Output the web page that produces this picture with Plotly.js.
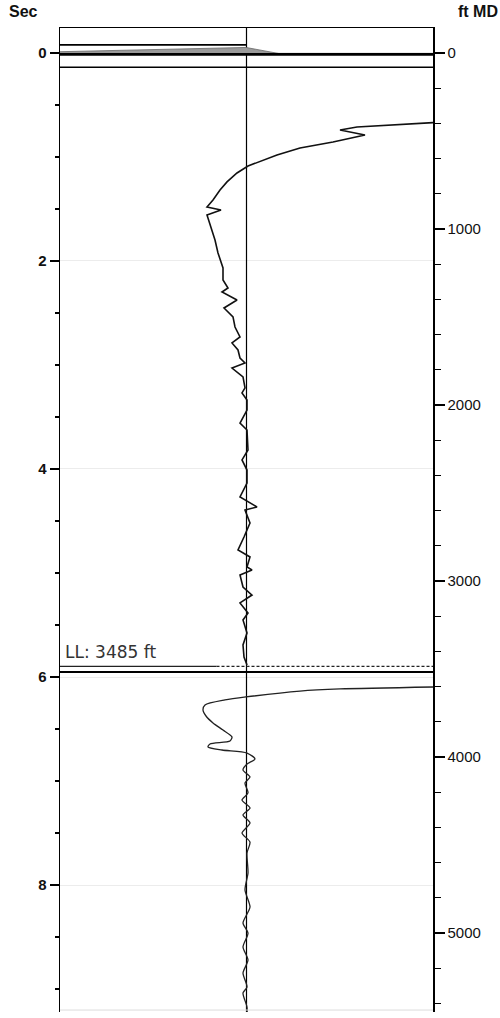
<!DOCTYPE html>
<html>
<head>
<meta charset="utf-8">
<script src="https://cdn.plot.ly/plotly-3.0.1.min.js"></script>
<style>html,body{margin:0;padding:0;background:#fff;}#chart{width:500px;height:1018px;}</style>
</head>
<body>
<div id="chart"></div>
<script>
// ---- data (time in seconds, amplitude in arbitrary units) ----
const upperTime = [0.670,0.712,0.740,0.788,0.856,0.913,0.981,1.087,1.154,1.240,1.317,1.413,1.481,1.510,1.558,1.673,1.798,1.923,2.067,2.183,2.260,2.298,2.346,2.375,2.452,2.538,2.635,2.731,2.788,2.856,2.933,2.981,3.029,3.115,3.221,3.269,3.337,3.433,3.558,3.625,3.817,3.913,4.010,4.135,4.269,4.365,4.394,4.519,4.654,4.779,4.846,4.942,4.971,5.019,5.135,5.212,5.288,5.385,5.452,5.577,5.692,5.808,5.885];
const upperAmp  = [186.5,110.5,93.5,118.5,86.5,53.5,30.5,1.5,-9.5,-19.5,-26.5,-33.5,-39.5,-25.5,-39.5,-35.5,-31.5,-28.5,-23.5,-23.5,-18.5,-24.5,-14.5,-9.5,-22.5,-13.5,-11.5,-6.5,-14.5,-8.5,-6.5,-1.5,-14.5,-3.5,-1.5,-4.5,0.5,0.5,-6.5,0.5,1.5,-4.5,0.5,0.5,-6.5,10.5,-1.5,3.5,-2.5,-8.5,3.5,0.5,5.5,-6.5,-3.5,5.5,-6.5,1.5,-3.5,0.5,-3.5,-2.5,0.5];
const lowerTime = [6.096,6.115,6.135,6.192,6.221,6.269,6.317,6.375,6.442,6.510,6.577,6.615,6.644,6.673,6.702,6.731,6.788,6.837,6.894,6.962,7.019,7.115,7.183,7.260,7.327,7.404,7.500,7.587,7.692,7.885,8.048,8.212,8.365,8.462,8.596,8.721,8.846,8.981,9.038,9.173,9.279];
const lowerAmp  = [186.5,93.5,53.5,-0.5,-21.5,-41.5,-43.5,-40.5,-33.5,-23.5,-14.5,-16.5,-36.5,-38.5,-24.5,0.5,8.5,0.5,-3.5,3.5,-1.5,1.5,-4.5,3.5,-3.5,3.5,-4.5,3.5,0.5,1.5,-1.5,3.5,-3.5,1.5,-3.5,1.5,-3.5,0.5,-3.5,0.5,0.5];
const topWaveTime = [-0.012,-0.053,0.012,0.012];
const topWaveAmp  = [-186.5,-0.5,36,-186.5];
const topLineTime = -0.077;
const zeroLineTime = 0.014;
const baseLineTime = 0.138;
const llDepthFt = 3485;
const llLineTime = 5.952;
const secTicks = [0,2,4,6,8];
const ftTicks = [0,1000,2000,3000,4000,5000];
const llLabel = 'LL: 3485 ft';

// ---- layout constants ----
const secRange = [9.221,-0.240];
const ftRange = [5449,-142];
const ampRange = [-186.5,186.5];
const L = ampRange[0], R = ampRange[1];

const black = '#000';
const traces = [
  {x:[0,0], y:secRange, mode:'lines', line:{color:black,width:1.2}, hoverinfo:'skip'},
  {x:[L,0], y:[topLineTime,topLineTime], mode:'lines', line:{color:black,width:1.8}, hoverinfo:'skip'},
  {x:topWaveAmp, y:topWaveTime, mode:'lines', fill:'toself', fillcolor:'#9a9a9a', line:{color:'#666',width:0.8}, hoverinfo:'skip'},
  {x:[L,R], y:[zeroLineTime,zeroLineTime], mode:'lines', line:{color:black,width:2.6}, hoverinfo:'skip'},
  {x:[L,R], y:[baseLineTime,baseLineTime], mode:'lines', line:{color:black,width:1.6}, hoverinfo:'skip'},
  {x:upperAmp, y:upperTime, mode:'lines', line:{color:'#111',width:1.6}, hoverinfo:'skip'},
  {x:lowerAmp, y:lowerTime, mode:'lines', line:{color:'#222',width:1.3, shape:'spline', smoothing:0.7}, hoverinfo:'skip'},
  {x:[L,R], y:[llLineTime,llLineTime], mode:'lines', line:{color:black,width:2}, hoverinfo:'skip'},
  {x:[L,-30], y:[llDepthFt,llDepthFt], yaxis:'y2', mode:'lines', line:{color:'#222',width:1.2}, hoverinfo:'skip'},
  {x:[-30,R], y:[llDepthFt,llDepthFt], yaxis:'y2', mode:'lines', line:{color:'#222',width:1.1,dash:'3px,2px'}, hoverinfo:'skip'}
];

const tickFont = {family:'Liberation Sans, Arial, sans-serif', size:15, color:'#111'};
const layout = {
  width:500, height:1018,
  margin:{l:60, r:67, t:28, b:6, pad:0},
  paper_bgcolor:'#fff', plot_bgcolor:'#fff',
  showlegend:false,
  xaxis:{range:ampRange, showticklabels:false, ticks:'', showgrid:false, zeroline:false,
         side:'top', showline:true, linecolor:black, linewidth:1.5, fixedrange:true},
  yaxis:{range:secRange, tickvals:secTicks, ticktext:secTicks.map(String), ticks:'outside', ticklen:9,
         tickwidth:1.3, tickcolor:black, showline:true, linecolor:black, linewidth:1.5,
         showgrid:true, gridcolor:'#ececec', gridwidth:1, zeroline:false,
         minor:{dtick:0.5, tick0:0, ticks:'outside', ticklen:4, tickcolor:black, tickwidth:1.2, showgrid:false},
         tickfont:Object.assign({}, tickFont, {weight:'bold'}), fixedrange:true},
  yaxis2:{range:ftRange, overlaying:'y', side:'right', tickvals:ftTicks, ticktext:ftTicks.map(String),
          ticks:'outside', ticklen:10, tickwidth:1.3, tickcolor:black, showline:true, linecolor:black,
          linewidth:1.5, showgrid:false, zeroline:false,
          minor:{dtick:200, tick0:0, ticks:'outside', ticklen:6, tickcolor:black, tickwidth:1.2},
          tickfont:tickFont, fixedrange:true},
  shapes:[
    {type:'line', xref:'paper', yref:'paper', x0:0, x1:1, y0:0.002, y1:0.002, line:{color:'#dcdcdc', width:1}}
  ],
  annotations:[
    {text:'Sec', xref:'paper', yref:'paper', x:-0.099, y:1.0163, xanchor:'center', yanchor:'middle',
     showarrow:false, font:{family:'Liberation Sans, Arial, sans-serif', size:16, weight:'bold', color:'#111'}},
    {text:'ft MD', xref:'paper', yref:'paper', x:1.063, y:1.0163, xanchor:'left', yanchor:'middle',
     showarrow:false, font:{family:'Liberation Sans, Arial, sans-serif', size:16, weight:'bold', color:'#111'}},
    {text:llLabel, xref:'x', yref:'y', x:L+3, y:5.76, xanchor:'left', yanchor:'middle',
     showarrow:false, font:{family:'DejaVu Sans, sans-serif', size:17, color:'#333'}}
  ]
};

Plotly.newPlot('chart', traces, layout, {displayModeBar:false, staticPlot:true});
</script>
</body>
</html>
